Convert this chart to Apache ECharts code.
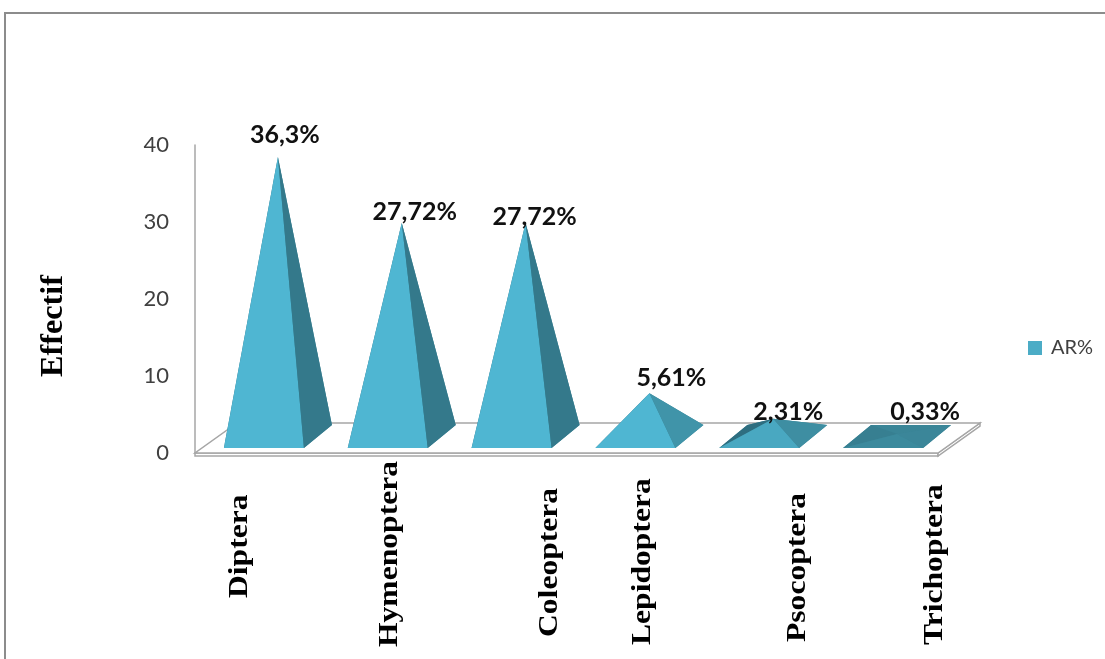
<!DOCTYPE html>
<html><head><meta charset="utf-8">
<script src="https://cdn.jsdelivr.net/npm/echarts@6/dist/echarts.min.js"></script>
<style>html,body{margin:0;padding:0;background:#fff}#c{width:1105px;height:659px}</style>
</head><body><div id="c"></div>
<script>
// ---- data ----
const categories = ['Diptera', 'Hymenoptera', 'Coleoptera', 'Lepidoptera', 'Psocoptera', 'Trichoptera'];
const arPercent = [36.3, 27.72, 27.72, 5.61, 2.31, 0.33];
const valueLabels = ['36,3%', '27,72%', '27,72%', '5,61%', '2,31%', '0,33%'];
const yTicks = [0, 10, 20, 30, 40];
const seriesName = 'AR%';
const yTitle = 'Effectif';

// ---- layout (positions of hand-placed text boxes) ----
const catLabelPos = [[240, 598], [390, 647], [550, 637], [643, 645], [798, 642], [935, 645]];
const labelNudge = [[7, -22], [13, -11], [9, -6], [22, -15], [15, -7], [28, -22]];
const FLOOR_DX = 42, FLOOR_DY = -30;
const PYR_DX = 28, PYR_DY = -23, SET_X = 7, SET_Y = -5, HALF_W = 0.323;

function hex2rgb(h){h=h.replace('#','');return [0,2,4].map(i=>parseInt(h.substr(i,2),16));}
function mix(a,b,t){t=Math.max(0,Math.min(1,t));const A=hex2rgb(a),B=hex2rgb(b);
  return 'rgb('+A.map((v,i)=>Math.round(v+(B[i]-v)*t)).join(',')+')';}
const C_FRONT='#4FB6D2', C_FLAT='#3A8597', C_RIGHT_TALL='#34798B', C_RIGHT_MID='#4095AA', C_LEFT='#2E6E80';

const chart = echarts.init(document.getElementById('c'));

function floorRender(params, api) {
  const cs = params.coordSys;
  const x = cs.x, y = cs.y + cs.height, w = cs.width;
  const fl=[x,y], fr=[x+w,y], br=[x+w+FLOOR_DX,y+FLOOR_DY], bl=[x+FLOOR_DX,y+FLOOR_DY];
  const T = 3;
  const st = {fill:'#fff', stroke:'#a6a6a6', lineWidth:1.5};
  return {type:'group', children:[
    {type:'polygon', shape:{points:[fl,fr,[fr[0],fr[1]+T],[fl[0],fl[1]+T]]}, style:st},
    {type:'polygon', shape:{points:[fr,br,[br[0],br[1]+T],[fr[0],fr[1]+T]]}, style:st},
    {type:'polygon', shape:{points:[fl,fr,br,bl]}, style:st}
  ]};
}

function pyrRender(params, api) {
  const i = api.value(0), v = api.value(1);
  const base = api.coord([i, 0]);
  const top = api.coord([i, v]);
  const bw = api.size([1, 0])[0];
  const hw = bw * HALF_W;
  const fl=[base[0]-hw+SET_X, base[1]+SET_Y], fr=[base[0]+hw+SET_X, base[1]+SET_Y];
  const bl=[fl[0]+PYR_DX, fl[1]+PYR_DY], br=[fr[0]+PYR_DX, fr[1]+PYR_DY];
  const apex=[base[0]+SET_X+PYR_DX/2, top[1]+SET_Y+PYR_DY/2];
  const hpx = base[1]-top[1];
  const front = mix(C_FLAT, C_FRONT, hpx/25);
  const right = hpx < 30 ? mix(C_FLAT, C_RIGHT_MID, hpx/30) : mix(C_RIGHT_MID, C_RIGHT_TALL, (hpx-40)/120);
  const left = mix(C_FLAT, C_LEFT, hpx/10);
  const nd = labelNudge[params.dataIndex];
  return {type:'group', children:[
    {type:'polygon', shape:{points:[fl,fr,br,bl]}, style:{fill:C_FLAT}},
    {type:'polygon', shape:{points:[bl,br,apex]}, style:{fill:C_FLAT}},
    {type:'polygon', shape:{points:[fl,bl,apex]}, style:{fill:left}},
    {type:'polygon', shape:{points:[fl,fr,apex]}, style:{fill:front}},
    {type:'polygon', shape:{points:[fr,br,apex]}, style:{fill:right}},
    {type:'text', z2:10, x:apex[0]+nd[0], y:apex[1]+nd[1], style:{
      text: valueLabels[params.dataIndex], fill:'#111', fontFamily:'Lato', fontWeight:'bold',
      fontSize:25, align:'center', verticalAlign:'middle'}}
  ]};
}

const graphics = [
  {type:'rect', shape:{x:5, y:13, width:1200, height:700}, style:{fill:'none', stroke:'#8c8c8c', lineWidth:2}, z:-10, silent:true},
  {type:'text', x:54, y:326, rotation:Math.PI/2, scaleX:1.04, style:{text:yTitle, fill:'#000',
    fontFamily:'"Liberation Serif", "Times New Roman", serif', fontWeight:'bold', fontSize:31, align:'center', verticalAlign:'middle'}}
];
categories.forEach((c, k) => {
  graphics.push({type:'text', x:catLabelPos[k][0], y:catLabelPos[k][1], rotation:Math.PI/2, scaleX:1.17,
    style:{text:c, fill:'#000', fontFamily:'"Liberation Serif", "Times New Roman", serif', fontWeight:'bold',
    fontSize:27, align:'left', verticalAlign:'middle'}});
});

chart.setOption({
  animation:false,
  backgroundColor:'#fff',
  grid:{left:195, top:145, width:743, height:308},
  legend:{data:[seriesName], left:1023, top:333, icon:'rect', itemWidth:14, itemHeight:14,
    textStyle:{color:'#404040', fontSize:20, fontFamily:'Lato', padding:[0,0,0,4]}},
  xAxis:{type:'category', data:categories, boundaryGap:true, axisLine:{show:false}, axisTick:{show:false}, axisLabel:{show:false}},
  yAxis:{type:'value', min:yTicks[0], max:yTicks[yTicks.length-1], interval:yTicks[1]-yTicks[0],
    axisLine:{show:true, lineStyle:{color:'#a6a6a6', width:1.5}}, axisTick:{show:false}, splitLine:{show:false},
    axisLabel:{color:'#404040', fontSize:22, fontFamily:'Lato', margin:26}},
  graphic:graphics,
  series:[
    {type:'custom', name:'floor', z:1, silent:true, clip:false, renderItem:floorRender, data:[[0,0]]},
    {type:'custom', name:seriesName, z:2, clip:false, itemStyle:{color:'#4BACC6'}, renderItem:pyrRender,
      encode:{x:0, y:1}, data:arPercent.map((v,i)=>[i,v])}
  ]
});
</script></body></html>
